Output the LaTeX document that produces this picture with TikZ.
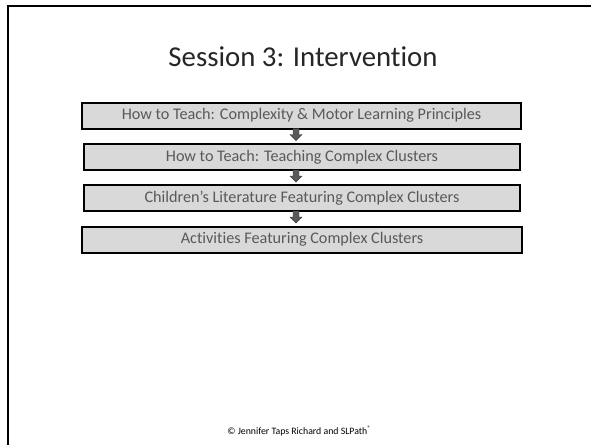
\documentclass[tikz,border=0pt]{standalone}
\usepackage{fontspec}
\setmainfont{Carlito}[Ligatures=NoCommon]
\definecolor{boxfill}{HTML}{D9D9D9}
\definecolor{boxtext}{HTML}{595959}
\definecolor{titletext}{HTML}{262626}
\definecolor{arrowfill}{HTML}{595959}
\tikzset{
  x=1pt, y=-1pt,
  stepbox/.style={draw=black, line width=2pt, fill=boxfill, text=boxtext,
    minimum height=26pt, inner sep=0pt, font=\fontsize{16.2}{18}\selectfont},
  % small block arrow pointing down, origin at its tail
  downarrow/.pic={
    \filldraw[fill=arrowfill, draw=black!75, line width=0.4pt]
      (-3,0) -- (3,0) -- (3,6) -- (6,6) -- (0,12) -- (-6,6) -- (-3,6) -- cycle;
  }
}
\begin{document}
\begin{tikzpicture}
\useasboundingbox (0,0) rectangle (591,445);
% slide frame (top and left edges)
\draw[line width=2.5pt] (8,445) -- (8,6) -- (591,6);
% title
\node[text=titletext, font=\fontsize{28.8}{34}\selectfont] (title) at (303,57) {Session 3: Intervention};
% steps
\node[stepbox, minimum width=439pt] (s1) at (301.5,115.5) {How to Teach: Complexity \& Motor Learning Principles};
\node[stepbox, minimum width=436pt] (s2) at (302,157) {How to Teach: Teaching Complex Clusters};
\node[stepbox, minimum width=436pt] (s3) at (302,198) {Children’s Literature Featuring Complex Clusters};
\node[stepbox, minimum width=440pt] (s4) at (302,239.5) {Activities Featuring Complex Clusters};
% connecting arrows
\path ([xshift=-5.5pt, yshift=1pt]s1.south) pic {downarrow};
\path ([xshift=-6pt, yshift=1pt]s2.south) pic {downarrow};
\path ([xshift=-6pt, yshift=1pt]s3.south) pic {downarrow};
% footer
\node[text=black, font=\fontsize{9.8}{11}\selectfont] (foot) at (299,431) {© Jennifer Taps Richard and SLPath\raisebox{0.9ex}{\fontsize{6.5}{7}\selectfont ®}};
\end{tikzpicture}
\end{document}
